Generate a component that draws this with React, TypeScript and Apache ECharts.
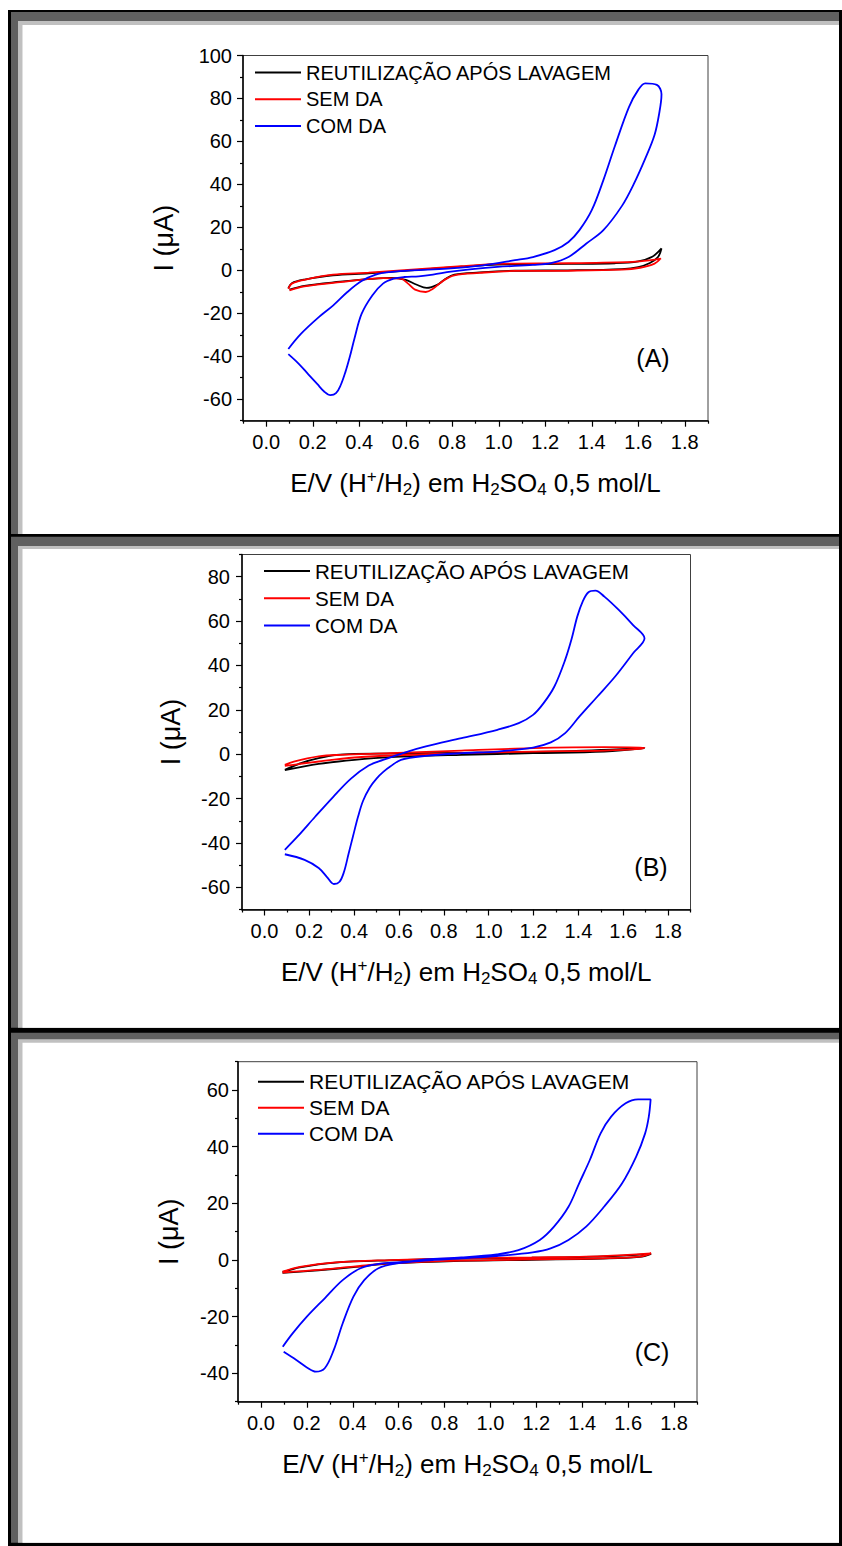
import React, { useEffect, useRef } from "react";
import * as echarts from "echarts";

const FONT = '"Liberation Sans", Arial, Helvetica, sans-serif';

const seriesNames = ["REUTILIZAÇÃO APÓS LAVAGEM", "SEM DA", "COM DA"];
const seriesColors = ["#000000", "#ff0000", "#0000ff"];
const panelLabels = ["(A)", "(B)", "(C)"];
const yAxisTitle = "I (μA)";

const xRange = [-0.1, 1.9];
const xMajorTicks = [0, 0.2, 0.4, 0.6, 0.8, 1.0, 1.2, 1.4, 1.6, 1.8];
const xMinorTicks = [-0.1, 0.1, 0.3, 0.5, 0.7, 0.9, 1.1, 1.3, 1.5, 1.7, 1.9];

const yRangeA = [-70, 100];
const yMajorA = [-60, -40, -20, 0, 20, 40, 60, 80, 100];
const yMinorA = [-70, -50, -30, -10, 10, 30, 50, 70, 90];
const yRangeB = [-70, 90];
const yMajorB = [-60, -40, -20, 0, 20, 40, 60, 80];
const yMinorB = [-70, -50, -30, -10, 10, 30, 50, 70, 90];
const yRangeC = [-50, 70];
const yMajorC = [-40, -20, 0, 20, 40, 60];
const yMinorC = [-50, -30, -10, 10, 30, 50, 70];

// ---------- Panel A ----------
const reutilizacaoA = [
  [0.095, -8.3], [0.11, -6.0], [0.164, -4.3], [0.287, -2.3], [0.44, -1.4], [0.625, 0.0],
  [0.84, 1.7], [0.994, 2.7], [1.3, 3.0], [1.5, 3.3], [1.6, 4.2], [1.66, 6.3], [1.7, 10.2],
  [1.685, 6.2], [1.65, 3.4], [1.6, 1.5], [1.53, 0.6], [1.3, 0.0], [1.07, -0.2], [0.917, -1.0],
  [0.809, -2.0], [0.77, -4.0], [0.735, -6.8], [0.69, -8.2], [0.645, -6.6], [0.6, -4.5],
  [0.54, -3.5], [0.45, -4.0], [0.318, -5.3], [0.164, -7.2], [0.1, -9.0],
];
const semDaA = [
  [0.095, -8.6], [0.11, -6.2], [0.164, -4.4], [0.287, -2.0], [0.44, -1.1], [0.625, 0.3],
  [0.84, 1.9], [0.994, 3.0], [1.3, 3.3], [1.576, 3.9], [1.654, 4.7], [1.697, 5.5],
  [1.67, 3.1], [1.608, 1.2], [1.53, 0.3], [1.3, -0.2], [1.07, -0.3], [0.917, -1.2],
  [0.809, -2.3], [0.763, -4.7], [0.717, -8.6], [0.686, -10.1], [0.64, -9.0], [0.61, -6.2],
  [0.579, -3.9], [0.502, -3.6], [0.318, -5.5], [0.164, -7.5], [0.1, -9.3],
];
const comDaA = [
  [0.095, -39], [0.14, -43.5], [0.18, -48.3], [0.22, -53], [0.25, -56.5], [0.276, -58.1],
  [0.3, -57.2], [0.32, -53.5], [0.34, -47.5], [0.36, -40], [0.38, -31.5], [0.41, -20.3],
  [0.456, -11.7], [0.502, -6.2], [0.548, -3.9], [0.594, -3.1],
  [0.656, -2.8], [0.717, -2.0], [0.794, -0.6], [0.886, 0.6], [0.994, 1.6], [1.147, 2.5],
  [1.224, 3.3], [1.3, 6.2], [1.377, 12.5], [1.45, 18.7], [1.53, 30], [1.58, 40], [1.63, 52],
  [1.67, 63], [1.69, 73], [1.7, 82],
  [1.68, 86.3], [1.63, 87], [1.6, 84], [1.56, 76], [1.5, 58], [1.45, 42], [1.4, 28],
  [1.347, 18.7], [1.3, 13.2], [1.24, 9.4], [1.147, 6.2], [1.07, 4.7], [0.932, 2.3],
  [0.779, 0.8], [0.625, 0.0], [0.533, -0.8], [0.471, -2.0], [0.41, -5.0], [0.349, -10.1],
  [0.287, -16.4], [0.226, -21.8], [0.149, -29.6], [0.095, -36.6],
];

// ---------- Panel B ----------
const reutilizacaoB = [
  [0.091, -7.0], [0.163, -4.0], [0.242, -1.8], [0.322, -0.3], [0.402, 0.15], [0.72, 0.45],
  [1.039, 0.75], [1.357, 1.35], [1.695, 2.7],
  [1.516, 1.2], [1.198, 0.45], [0.879, -0.3], [0.561, -1.35], [0.402, -2.55], [0.242, -4.4],
  [0.091, -7.2],
];
const semDaB = [
  [0.091, -4.8], [0.131, -3.3], [0.242, -1.0], [0.338, -0.3], [0.561, 0.45], [0.879, 1.65],
  [1.198, 2.7], [1.516, 3.15], [1.695, 3.0],
  [1.676, 2.4], [1.516, 1.65], [1.198, 1.2], [0.879, 0.45], [0.561, -0.6], [0.402, -1.5],
  [0.242, -3.3], [0.091, -5.3],
];
const comDaB = [
  [0.091, -45.1], [0.179, -47.6], [0.242, -51.3], [0.28, -55.5], [0.31, -58.5], [0.335, -57.5],
  [0.355, -53], [0.375, -45], [0.395, -37], [0.418, -28], [0.44, -21], [0.47, -15],
  [0.5, -11], [0.53, -8], [0.561, -5.6], [0.609, -2.55], [0.72, -0.75], [0.879, 0.45],
  [1.039, 1.2], [1.198, 3.0], [1.277, 5.3], [1.341, 9.5], [1.405, 17], [1.485, 26],
  [1.564, 35], [1.644, 45.5], [1.695, 52.2],
  [1.644, 58.2], [1.58, 65], [1.516, 71], [1.476, 73.7], [1.445, 73], [1.42, 69],
  [1.395, 62], [1.37, 52], [1.341, 42.5], [1.293, 30.5], [1.245, 23], [1.198, 17.7],
  [1.134, 14], [1.039, 11], [0.879, 7.2], [0.72, 3.5], [0.625, 0.75], [0.529, -2.6],
  [0.465, -5.1], [0.386, -11], [0.306, -19.3], [0.226, -28.2], [0.147, -37.2], [0.091, -43.1],
];

// ---------- Panel C ----------
const reutilizacaoC = [
  [0.094, -4.3], [0.17, -2.6], [0.325, -0.9], [0.56, -0.1], [0.87, 0.5], [1.18, 0.8],
  [1.49, 1.3], [1.7, 2.2],
  [1.65, 1.1], [1.49, 0.5], [1.18, 0.1], [0.87, -0.3], [0.56, -1.3], [0.403, -2.5],
  [0.25, -3.6], [0.094, -4.5],
];
const semDaC = [
  [0.094, -4.1], [0.17, -2.4], [0.325, -0.8], [0.56, 0.0], [0.87, 0.6], [1.18, 0.9],
  [1.49, 1.4], [1.7, 2.35],
  [1.65, 1.2], [1.49, 0.6], [1.18, 0.2], [0.87, -0.2], [0.56, -1.2], [0.403, -2.35],
  [0.25, -3.5], [0.094, -4.4],
];
const comDaC = [
  [0.099, -32.4], [0.154, -35.3], [0.2, -37.9], [0.239, -39.4], [0.278, -38.2], [0.317, -31.8],
  [0.356, -22.4], [0.403, -12.9], [0.45, -7.1], [0.512, -2.9], [0.59, -1.2], [0.714, -0.2],
  [0.873, 0.6], [1.028, 1.4], [1.184, 2.7], [1.262, 4.1], [1.34, 7.1], [1.417, 11.8],
  [1.495, 18.8], [1.573, 27], [1.635, 36.5], [1.674, 44.7], [1.69, 50.6], [1.698, 56.7],
  [1.643, 56.7], [1.589, 55.3], [1.526, 50.6], [1.48, 44.7], [1.433, 35.3], [1.386, 27],
  [1.34, 18.8], [1.277, 11.8], [1.215, 7.1], [1.122, 3.5], [1.028, 2.0], [0.873, 0.9],
  [0.717, 0.2], [0.636, -0.6], [0.527, -1.2], [0.434, -2.9], [0.356, -7.1], [0.278, -13.5],
  [0.2, -20], [0.138, -25.9], [0.095, -30.6],
];

const panelData = [
  [reutilizacaoA, semDaA, comDaA],
  [reutilizacaoB, semDaB, comDaB],
  [reutilizacaoC, semDaC, comDaC],
];
const panelYRanges = [yRangeA, yRangeB, yRangeC];
const panelYMajor = [yMajorA, yMajorB, yMajorC];
const panelYMinor = [yMinorA, yMinorB, yMinorC];

// layout (pixels)
const grids = [
  { left: 243, top: 55.5, width: 465, height: 365.2 },
  { left: 242, top: 554.5, width: 448.5, height: 355 },
  { left: 238, top: 1061.7, width: 459, height: 340 },
];
const yNameGaps = [64, 56, 54];
const yLabelMargins = [11, 12, 9];
const legendFont = [20, 20.6, 21];
const legendPos = [
  { left: 255, top: 62.6, gap: 24.7 },
  { left: 264, top: 560.5, gap: 24.2 },
  { left: 258, top: 1071.3, gap: 23 },
];
const panelLabelPos = [
  [653, 358],
  [651, 867],
  [652, 1352],
];
// frame bands: [darkTop, lightTop, whiteTop, bottom]
const frameBands = [
  [12, 21, 25, 534],
  [536.7, 546, 549, 1027.7],
  [1032.7, 1039.3, 1042.7, 1542.7],
];

export default function App() {
  const ref = useRef<HTMLDivElement>(null);

  useEffect(() => {
    if (!ref.current) return;
    const chart = echarts.init(ref.current, null, { renderer: "svg" });

    const xAxes: any[] = [];
    const yAxes: any[] = [];
    const series: any[] = [];
    const legends: any[] = [];
    const graphics: any[] = [];

    // frame
    graphics.push({
      type: "rect", z: -20, silent: true,
      shape: { x: 8, y: 10, width: 834, height: 1536 },
      style: { fill: "#000000" },
    });
    frameBands.forEach(([d, l, w, b]) => {
      graphics.push({
        type: "rect", z: -19, silent: true,
        shape: { x: 11, y: d, width: 828, height: b - d },
        style: { fill: "#606060" },
      });
      graphics.push({
        type: "rect", z: -18, silent: true,
        shape: { x: 18, y: l, width: 821, height: b - l },
        style: { fill: "#c0c0c0" },
      });
      graphics.push({
        type: "rect", z: -17, silent: true,
        shape: { x: 22.5, y: w, width: 816.5, height: b - w },
        style: { fill: "#ffffff" },
      });
    });

    const xName =
      "{n|E/V (H}{sup|+}{n|/H}{sub|2}{n|) em H}{sub|2}{n|SO}{sub|4}{n| 0,5 mol/L}";

    grids.forEach((g, i) => {
      const [ymin, ymax] = panelYRanges[i];
      xAxes[i] = {
        gridIndex: i, type: "value", position: "bottom",
        min: xRange[0], max: xRange[1],
        name: xName, nameLocation: "middle", nameGap: 47,
        nameTextStyle: {
          rich: {
            n: { fontSize: 26, fontFamily: FONT, color: "#000", lineHeight: 30, verticalAlign: "middle" },
            sub: { fontSize: 17, fontFamily: FONT, color: "#000", lineHeight: 13, verticalAlign: "bottom" },
            sup: { fontSize: 17, fontFamily: FONT, color: "#000", lineHeight: 24, verticalAlign: "top" },
          },
        },
        axisLine: { show: true, onZero: false, lineStyle: { color: "#000", width: 1.5 } },
        axisTick: { show: true, length: 6, customValues: xMajorTicks, lineStyle: { color: "#000", width: 1.2 } },
        axisLabel: {
          show: true, customValues: xMajorTicks, margin: 11,
          fontSize: 20, fontFamily: FONT, color: "#000",
          formatter: (v: number) => v.toFixed(1),
        },
        splitLine: { show: false },
      };
      xAxes[i + 3] = {
        gridIndex: i, type: "value", position: "bottom", offset: 0,
        min: xRange[0], max: xRange[1],
        axisLine: { show: false, onZero: false },
        axisTick: { show: true, length: 3, customValues: xMinorTicks, lineStyle: { color: "#000", width: 1.2 } },
        axisLabel: { show: false },
        splitLine: { show: false },
      };
      yAxes[i] = {
        gridIndex: i, type: "value", position: "left",
        min: ymin, max: ymax,
        name: yAxisTitle, nameLocation: "middle", nameGap: yNameGaps[i],
        nameTextStyle: { fontSize: 27, fontFamily: FONT, color: "#000", lineHeight: 30 },
        axisLine: { show: true, onZero: false, lineStyle: { color: "#000", width: 1.5 } },
        axisTick: { show: true, length: 6, customValues: panelYMajor[i], lineStyle: { color: "#000", width: 1.2 } },
        axisLabel: {
          show: true, customValues: panelYMajor[i], margin: yLabelMargins[i],
          fontSize: 20, fontFamily: FONT, color: "#000",
        },
        splitLine: { show: false },
      };
      yAxes[i + 3] = {
        gridIndex: i, type: "value", position: "left", offset: 0,
        min: ymin, max: ymax,
        axisLine: { show: false, onZero: false },
        axisTick: { show: true, length: 3, customValues: panelYMinor[i], lineStyle: { color: "#000", width: 1.2 } },
        axisLabel: { show: false },
        splitLine: { show: false },
      };

      panelData[i].forEach((data, k) => {
        series.push({
          type: "line",
          name: seriesNames[k],
          xAxisIndex: i, yAxisIndex: i,
          data,
          smooth: 0.35,
          symbol: "none",
          z: 2 + k,
          lineStyle: { color: seriesColors[k], width: 1.8 },
          itemStyle: { color: seriesColors[k] },
        });
      });

      legends.push({
        show: true, orient: "vertical",
        left: legendPos[i].left, top: legendPos[i].top,
        padding: 0, itemGap: legendPos[i].gap - 18,
        itemWidth: 46, itemHeight: 2,
        icon: "rect",
        selectedMode: false,
        data: seriesNames,
        textStyle: { fontSize: legendFont[i], fontFamily: FONT, color: "#000", lineHeight: 18 },
      });

      graphics.push({
        type: "text", z: 10,
        x: panelLabelPos[i][0], y: panelLabelPos[i][1],
        style: {
          text: panelLabels[i], fill: "#000", fontSize: 25, fontFamily: FONT,
          textAlign: "center", textVerticalAlign: "middle",
        },
      });
    });

    chart.setOption({
      animation: false,
      backgroundColor: "#ffffff",
      textStyle: { fontFamily: FONT },
      grid: grids.map((g) => ({
        left: g.left, top: g.top, width: g.width, height: g.height,
        show: true, borderColor: "#404040", borderWidth: 1, backgroundColor: "transparent",
        containLabel: false,
      })),
      xAxis: xAxes,
      yAxis: yAxes,
      legend: legends,
      series,
      graphic: graphics,
    });

    return () => chart.dispose();
  }, []);

  return (
    <div
      ref={ref}
      style={{ position: "absolute", left: 0, top: 0, width: 842, height: 1546 }}
    />
  );
}
